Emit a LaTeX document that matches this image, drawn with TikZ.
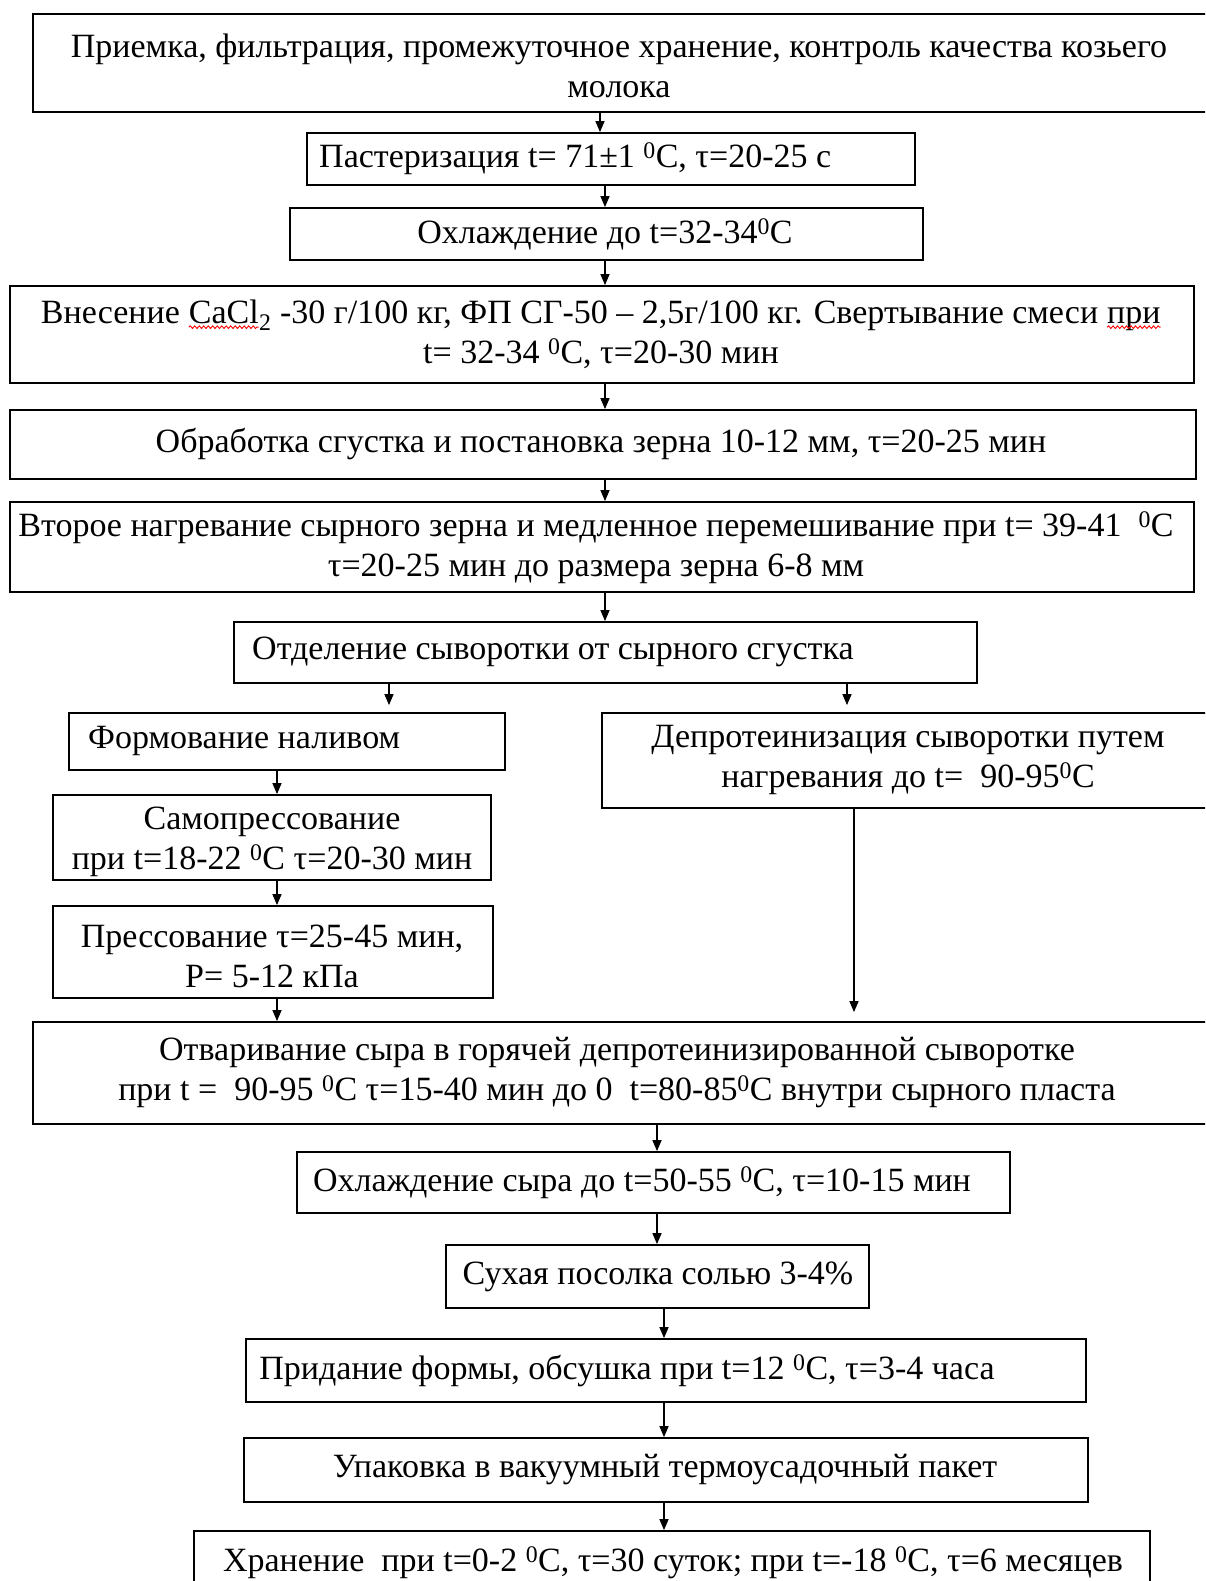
\documentclass[tikz,border=0pt]{standalone}
\usepackage{fontspec}
\setmainfont{Liberation Serif}
\usetikzlibrary{arrows.meta,decorations.pathmorphing}
\newcommand\redwave[1]{\tikz[baseline=(w.base)]{\node[inner sep=0pt,outer sep=0pt] (w) {#1}; \draw[red,line width=0.9pt,decorate,decoration={snake,amplitude=1.3pt,segment length=4.5pt}] ([yshift=-4pt]w.base west) -- ([yshift=-4pt]w.base east);}}
\newcommand\dg{\textsuperscript{0}}
\newcommand\bx[5]{\node[box,minimum width={#4pt-#2pt},minimum height={#5pt-#3pt}] (#1) at ({(#2+#4)/2},{(#3+#5)/2}) {};}
\begin{document}
\begin{tikzpicture}[x=1pt,y=-1pt,
 box/.style={draw=black,line width=1.8pt,rectangle,inner sep=0pt},
 txt/.style={font=\fontsize{34}{40}\selectfont,align=center,inner sep=0pt},
 arr/.style={line width=1.4pt,-{Triangle[length=11pt,width=9pt]}}]
\clip (0,0) rectangle (1205,1581);
\fill[white] (0,0) rectangle (1205,1581);
% boxes
\bx{B1}{33}{14}{1230}{112}
\bx{B2}{307}{133}{915}{185}
\bx{B3}{290}{208}{923}{260}
\bx{B4}{10}{286}{1194}{383}
\bx{B5}{10}{410}{1196}{479}
\bx{B6}{10}{502}{1194}{592}
\bx{B7}{234}{622}{977}{683}
\bx{B8}{69}{713}{505}{770}
\bx{B9}{602}{713}{1230}{808}
\bx{B10}{53}{795}{491}{880}
\bx{B11}{53}{906}{493}{998}
\bx{B12}{33}{1022}{1230}{1124}
\bx{B13}{297}{1152}{1010}{1213}
\bx{B14}{446}{1245}{869}{1308}
\bx{B15}{246}{1339}{1086}{1402}
\bx{B16}{244}{1438}{1088}{1502}
\bx{B17}{194}{1531}{1150}{1600}
% texts
\node[txt] (t1) at (619,66) {Приемка, фильтрация, промежуточное хранение, контроль качества козьего\\молока};
\node[txt,anchor=west] (t2) at (319,159) {Пастеризация t= 71±1 \dg C, τ=20-25 с};
\node[txt] (t3) at (605,234) {Охлаждение до t=32-34\dg C};
\node[txt] (t4) at (601,334) {Внесение \redwave{CaCl}\textsubscript{2} -30 г/100 кг, ФП СГ-50 – 2,5г/100 кг. Свертывание смеси \redwave{при}\\t= 32-34 \dg C, τ=20-30 мин};
\node[txt] (t5) at (601,444) {Обработка сгустка и постановка зерна 10-12 мм, τ=20-25 мин};
\node[txt] (t6) at (596,548) {Второе нагревание сырного зерна и медленное перемешивание при t= 39-41 \ \dg C\\τ=20-25 мин до размера зерна 6-8 мм};
\node[txt,anchor=west] (t7) at (252,652) {Отделение сыворотки от сырного сгустка};
\node[txt,anchor=west] (t8) at (88,741) {Формование наливом};
\node[txt] (t9) at (908,760) {Депротеинизация сыворотки путем\\нагревания до t= \ 90-95\dg C};
\node[txt] (t10) at (272,842) {Самопрессование\\при t=18-22 \dg C τ=20-30 мин};
\node[txt] (t11) at (272,956) {Прессование τ=25-45 мин,\\P= 5-12 кПа};
\node[txt] (t12) at (617,1073) {Отваривание сыра в горячей депротеинизированной сыворотке\\при t = \ 90-95 \dg C τ=15-40 мин до 0 \ t=80-85\dg C внутри сырного пласта};
\node[txt] (t13) at (642,1183) {Охлаждение сыра до t=50-55 \dg C, τ=10-15 мин};
\node[txt] (t14) at (658,1277) {Сухая посолка солью 3-4\%};
\node[txt] (t15) at (627,1371) {Придание формы, обсушка при t=12 \dg C, τ=3-4 часа};
\node[txt] (t16) at (665,1470) {Упаковка в вакуумный термоусадочный пакет};
\node[txt] (t17) at (673,1563) {Хранение \ при t=0-2 \dg C, τ=30 суток; при t=-18 \dg C, τ=6 месяцев};
% connector columns
\coordinate (xa) at (600,0);
\coordinate (xc) at (605,0);
\coordinate (xl) at (389,0);
\coordinate (xr) at (847,0);
\coordinate (xs) at (277,0);
\coordinate (xd) at (854,0);
\coordinate (xb) at (657,0);
\coordinate (xe) at (664,0);
\draw[arr] (B1.south -| xa) -- (B2.north -| xa);
\draw[arr] (B2.south -| xc) -- (B3.north -| xc);
\draw[arr] (B3.south -| xc) -- (B4.north -| xc);
\draw[arr] (B4.south -| xc) -- (B5.north -| xc);
\draw[arr] (B5.south -| xc) -- (B6.north -| xc);
\draw[arr] (B6.south -| xc) -- (B7.north -| xc);
\draw[arr] (B7.south -| xl) -- ([yshift=7pt]B8.north -| xl);
\draw[arr] (B7.south -| xr) -- ([yshift=7pt]B9.north -| xr);
\draw[arr] (B8.south -| xs) -- (B10.north -| xs);
\draw[arr] (B10.south -| xs) -- (B11.north -| xs);
\draw[arr] (B11.south -| xs) -- (B12.north -| xs);
\draw[arr] (B9.south -| xd) -- ([yshift=9pt]B12.north -| xd);
\draw[arr] (B12.south -| xb) -- (B13.north -| xb);
\draw[arr] (B13.south -| xb) -- (B14.north -| xb);
\draw[arr] (B14.south -| xe) -- (B15.north -| xe);
\draw[arr] (B15.south -| xe) -- (B16.north -| xe);
\draw[arr] (B16.south -| xe) -- (B17.north -| xe);
\end{tikzpicture}
\end{document}
